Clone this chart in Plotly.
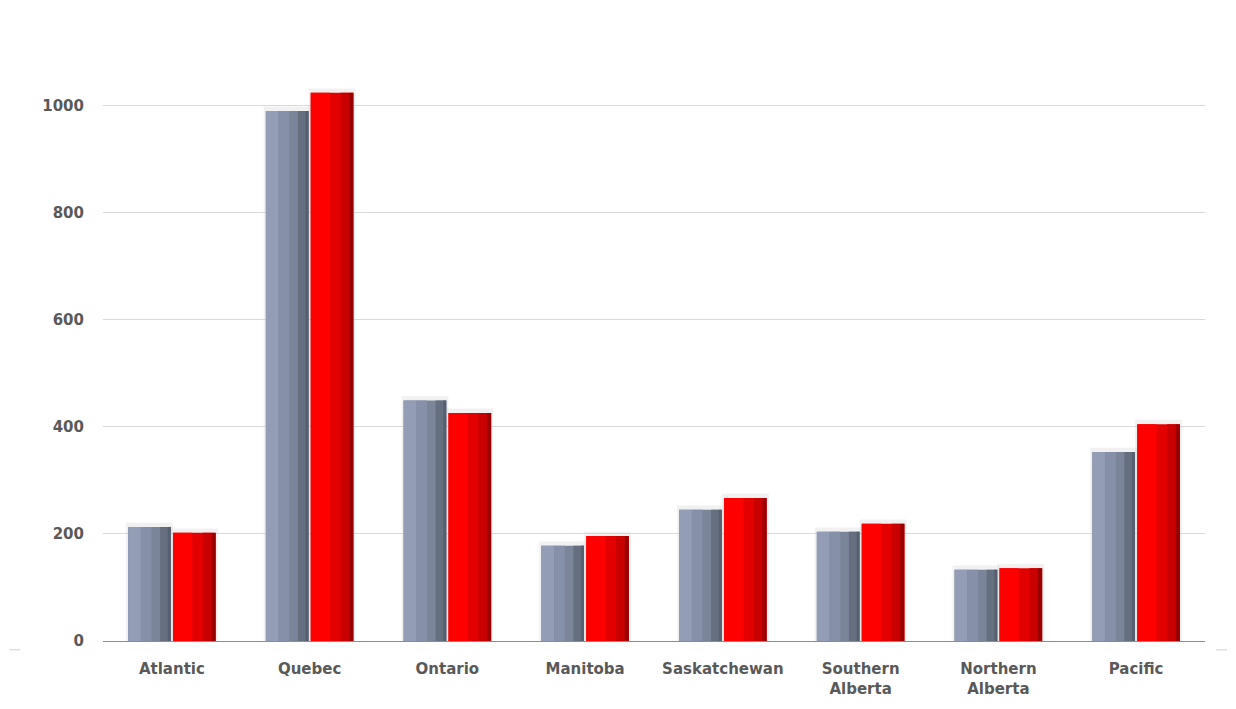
import plotly.graph_objects as go

categories = ["Atlantic", "Quebec", "Ontario", "Manitoba", "Saskatchewan",
              "Southern<br>Alberta", "Northern<br>Alberta", "Pacific"]
series_grey = [213, 990, 449, 178, 245, 204, 133, 353]
series_red = [202, 1024, 426, 196, 267, 219, 136, 405]
y_ticks = [0, 200, 400, 600, 800, 1000]

W = 0.31
G = 0.008

fig = go.Figure()

def layered(values, off, layers):
    for frac_start, frac_w, color in layers:
        fig.add_trace(go.Bar(
            x=categories, y=values, width=W * frac_w, offset=off + W * frac_start,
            marker=dict(color=color, line=dict(width=0)), showlegend=False,
            hoverinfo="skip"))

# soft shadow halos
fig.add_trace(go.Bar(x=categories, y=[v + 8 for v in series_grey], width=W + 0.03,
                     offset=-W - G - 0.015, marker=dict(color="rgba(200,200,200,0.25)", line=dict(width=0)),
                     showlegend=False, hoverinfo="skip"))
fig.add_trace(go.Bar(x=categories, y=[v + 8 for v in series_red], width=W + 0.03,
                     offset=G - 0.015, marker=dict(color="rgba(200,200,200,0.25)", line=dict(width=0)),
                     showlegend=False, hoverinfo="skip"))

layered(series_grey, -W - G, [(0, 1, "#7b8599"), (0, 0.3, "#939db6"), (0.3, 0.25, "#8690a8"),
                               (0.75, 0.25, "#666f80"), (0.93, 0.07, "#556070")])
layered(series_red, G, [(0, 1, "#e30000"), (0, 0.45, "#ff0000"), (0.7, 0.2, "#c80000"),
                         (0.9, 0.1, "#9a0000")])

tick_font = dict(size=15, color="#595959", family="DejaVu Sans, sans-serif", weight="bold")

fig.update_layout(
    width=1228, height=701,
    margin=dict(l=95, r=31, t=44, b=68),
    paper_bgcolor="white", plot_bgcolor="white",
    barmode="overlay",
    font=dict(family="DejaVu Sans, sans-serif", size=15, color="#595959"),
    xaxis=dict(showline=True, linecolor="#8c8c8c", linewidth=1, ticks="",
               tickfont=tick_font, showgrid=False, ticklabelstandoff=14),
    yaxis=dict(range=[0, 1100], tickvals=y_ticks, showgrid=True, gridcolor="#d9d9d9",
               gridwidth=1, zeroline=False, ticks="", ticklabelstandoff=18,
               tickfont=tick_font),
    shapes=[
        dict(type="line", xref="paper", yref="paper", x0=-0.085, x1=-0.075, y0=-0.015, y1=-0.015,
             line=dict(color="#d0d0d0", width=1)),
        dict(type="line", xref="paper", yref="paper", x0=1.01, x1=1.02, y0=-0.015, y1=-0.015,
             line=dict(color="#d0d0d0", width=1)),
    ],
)

fig.write_html("out.html")
